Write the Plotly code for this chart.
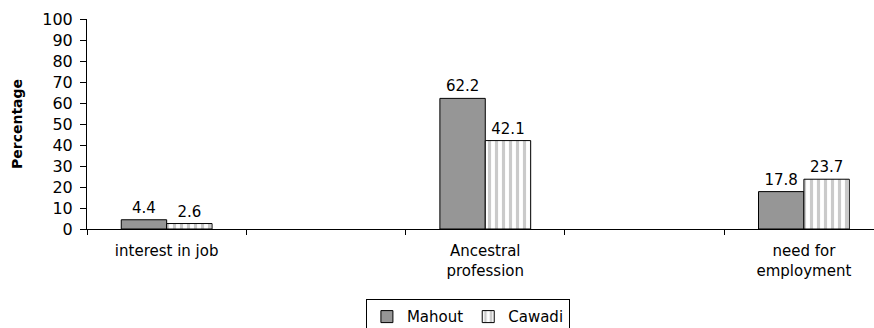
import plotly.graph_objects as go

categories = ["interest in job", " ", "Ancestral<br>profession", "  ", "need for<br>employment"]
mahout = [4.4, None, 62.2, None, 17.8]
cawadi = [2.6, None, 42.1, None, 23.7]
y_ticks = list(range(0, 101, 10))

def lbl(vals):
    return ["" if v is None else f"{v}" for v in vals]

FAM = "DejaVu Sans, Arial, sans-serif"
font = dict(family=FAM, size=15, color="black")

fig = go.Figure()
fig.add_trace(go.Bar(
    name="Mahout", x=categories, y=mahout, text=lbl(mahout),
    textposition="outside", cliponaxis=False,
    marker=dict(color="#969696", line=dict(color="black", width=1)),
    textfont=font,
))
fig.add_trace(go.Bar(
    name="Cawadi", x=categories, y=cawadi, text=lbl(cawadi),
    textposition="outside", cliponaxis=False,
    marker=dict(color="white", line=dict(color="black", width=1),
                pattern=dict(shape="|", fgcolor="#969696", bgcolor="white",
                             size=7, solidity=0.45, fillmode="overlay")),
    textfont=font,
))

fig.update_layout(
    width=874, height=328,
    margin=dict(l=87, r=0, t=19, b=99, autoexpand=False),
    paper_bgcolor="white", plot_bgcolor="white",
    barmode="group", bargap=0.43, bargroupgap=0,
    font=font,
    showlegend=True,
    legend=dict(orientation="h", x=0.484, xanchor="center", y=-0.335, yanchor="top",
                bordercolor="black", borderwidth=1,
                font=dict(size=15, family=FAM, color="black"),
                itemwidth=30, tracegroupgap=0),
)
fig.update_xaxes(
    type="category", range=[-0.5, 4.44], automargin=False,
    showline=True, linecolor="black", linewidth=1,
    ticks="outside", tickson="boundaries", ticklen=5, tickcolor="black",
    ticklabelstandoff=8,
    showgrid=False, tickfont=font,
)
fig.update_yaxes(
    range=[0, 100], tickvals=y_ticks, automargin=False,
    showline=True, linecolor="black", linewidth=1,
    ticks="outside", ticklen=6, tickcolor="black",
    ticklabelstandoff=4,
    showgrid=False, zeroline=False, tickfont=dict(family=FAM, size=16, color="black"),
    title=dict(text="<b>Percentage</b>", font=dict(size=14, family=FAM, color="black"), standoff=16),
)

fig.write_html("out.html", config={"displayModeBar": False},
               post_script="document.body.style.margin='0';document.body.style.overflow='hidden';")
